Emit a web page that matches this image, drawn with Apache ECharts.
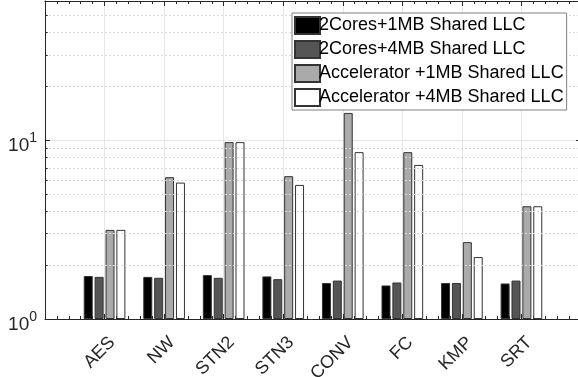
<!DOCTYPE html>
<html>
<head>
<meta charset="utf-8">
<script src="https://cdn.jsdelivr.net/npm/echarts@6/dist/echarts.min.js"></script>
<style>html,body{margin:0;padding:0;background:#fff;}#c{width:578px;height:377px;}</style>
</head>
<body>
<div id="c"></div>
<script>
const categories = ['AES', 'NW', 'STN2', 'STN3', 'CONV', 'FC', 'KMP', 'SRT'];
const seriesNames = ['2Cores+1MB Shared LLC', '2Cores+4MB Shared LLC', 'Accelerator +1MB Shared LLC', 'Accelerator +4MB Shared LLC'];
const cores1MB = [1.74, 1.72, 1.76, 1.73, 1.59, 1.54, 1.59, 1.58];
const cores4MB = [1.72, 1.70, 1.70, 1.67, 1.64, 1.60, 1.59, 1.64];
const accel1MB = [3.15, 6.21, 9.75, 6.29, 14.2, 8.57, 2.69, 4.27];
const accel4MB = [3.15, 5.79, 9.75, 5.62, 8.57, 7.27, 2.22, 4.27];
const yTicks = [1, 10];
const minorY = [2, 3, 4, 5, 6, 7, 8, 9, 20, 30, 40, 50];

const colors = ['#000000', '#555555', '#aaaaaa', '#ffffff'];
const allValues = [cores1MB, cores4MB, accel1MB, accel4MB];
const FONT = "'Liberation Sans', Arial, Helvetica, sans-serif";
const AX = '#262626';

const barSeries = allValues.map((vals, i) => ({
  name: seriesNames[i],
  type: 'bar',
  xAxisIndex: 0,
  yAxisIndex: 0,
  barWidth: 9,
  barGap: '21%',
  data: vals.map((v, j) => [j + 1, v]),
  itemStyle: { color: colors[i], borderColor: '#333333', borderWidth: 1 },
  z: 3
}));

const gridLines = {
  type: 'line',
  data: [],
  silent: true,
  xAxisIndex: 0,
  yAxisIndex: 0,
  markLine: {
    silent: true,
    symbol: 'none',
    label: { show: false },
    animation: false,
    data: [].concat(
      minorY.map(v => [{ coord: [0, v], lineStyle: { color: '#d9d9d9', type: [2, 2], width: 1 } }, { coord: [9, v] }]),
      minorY.map(v => [{ coord: [0, v], lineStyle: { color: AX, type: 'solid', width: 1 } }, { coord: [0.045, v] }]),
      minorY.map(v => [{ coord: [8.955, v], lineStyle: { color: AX, type: 'solid', width: 1 } }, { coord: [9, v] }])
    )
  },
  z: 1
};

const option = {
  animation: false,
  backgroundColor: '#ffffff',
  textStyle: { fontFamily: FONT },
  grid: { left: 45, width: 536, top: 1, bottom: 58, containLabel: false, outerBoundsMode: 'none' },
  legend: {
    data: seriesNames,
    orient: 'vertical',
    left: 292,
    top: 13,
    padding: [3, 3, 3, 2],
    itemWidth: 25,
    itemHeight: 17,
    itemGap: 5,
    backgroundColor: '#ffffff',
    borderColor: '#808080',
    borderWidth: 1,
    icon: 'rect',
    textStyle: { fontFamily: FONT, fontSize: 18, color: '#000', padding: [0, 0, 0, -6], width: 254, overflow: 'none' },
    z: 10
  },
  xAxis: [
    {
      type: 'value',
      min: 0,
      max: 9,
      interval: 1,
      position: 'bottom',
      axisLine: { show: true, onZero: false, lineStyle: { color: AX, width: 1 } },
      axisTick: { show: true, inside: true, length: 5, lineStyle: { color: AX } },
      minorTick: { show: true, splitNumber: 5, length: 3, lineStyle: { color: AX } },
      splitLine: { show: true, lineStyle: { color: '#e6e6e6', width: 1 } },
      axisLabel: {
        rotate: 45,
        margin: 13,
        verticalAlign: 'top',
        padding: [2, 0, 0, 0],
        fontFamily: FONT,
        fontSize: 18,
        color: AX,
        formatter: v => categories[v - 1] || ''
      }
    },
    {
      type: 'value',
      min: 0,
      max: 9,
      interval: 1,
      position: 'top',
      axisLine: { show: true, onZero: false, lineStyle: { color: AX, width: 1 } },
      axisTick: { show: true, inside: true, length: 5, lineStyle: { color: AX } },
      minorTick: { show: true, splitNumber: 5, length: 3, lineStyle: { color: AX } },
      splitLine: { show: false },
      axisLabel: { show: false }
    }
  ],
  yAxis: [
    {
      type: 'log',
      logBase: 10,
      min: 1,
      max: 60,
      axisLine: { show: true, onZero: false, lineStyle: { color: AX, width: 1 } },
      axisTick: { show: true, inside: true, length: 5, lineStyle: { color: AX } },
      splitLine: { show: true, lineStyle: { color: '#e6e6e6', width: 1 } },
      axisLabel: {
        margin: 8,
        color: AX,
        fontFamily: FONT,
        formatter: v => {
          const i = yTicks.indexOf(Math.round(v * 1000) / 1000);
          return i >= 0 ? '{b|10}{s|' + i + '}' : '';
        },
        rich: {
          b: { fontSize: 19, fontFamily: FONT, color: AX, padding: [12, 0, 0, 0] },
          s: { fontSize: 14, fontFamily: FONT, color: AX, padding: [0, 0, 4, 0] }
        }
      }
    },
    {
      type: 'log',
      logBase: 10,
      min: 1,
      max: 60,
      position: 'right',
      axisLine: { show: true, onZero: false, lineStyle: { color: AX, width: 1 } },
      axisTick: { show: true, inside: true, length: 5, lineStyle: { color: AX } },
      splitLine: { show: false },
      axisLabel: { show: false }
    }
  ],
  series: barSeries.concat([gridLines])
};

const chart = echarts.init(document.getElementById('c'), null, { renderer: 'canvas' });
chart.setOption(option);
</script>
</body>
</html>
